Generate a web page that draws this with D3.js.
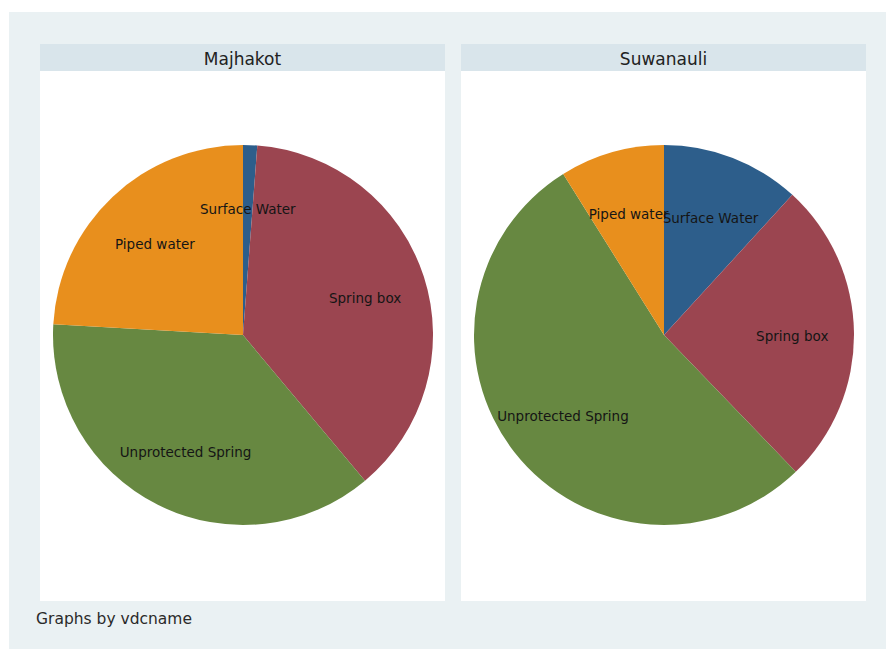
<!DOCTYPE html>
<html><head><meta charset="utf-8">
<script src="https://cdn.jsdelivr.net/npm/d3@7"></script>
<style>html,body{margin:0;padding:0;background:#fff;}svg{display:block;}</style>
</head><body>
<svg id="chart" width="886" height="649"></svg>
<script>
const categories = ["Surface Water", "Spring box", "Unprotected Spring", "Piped water"];
const panels = ["Majhakot", "Suwanauli"];
const majhakotValues = [1.2, 37.7, 37.0, 24.1];
const suwanauliValues = [11.8, 26.0, 53.3, 8.9];
const colors = ["#2d5e8b", "#9b4550", "#678841", "#e88f1d"];
const noteText = "Graphs by vdcname";

(function () {
const svg = d3.select("#chart");
const W = 886, H = 649;
svg.append("rect").attr("x", 9).attr("y", 12).attr("width", W - 9).attr("height", H - 12).attr("fill", "#eaf1f3");

const panelData = [
  {name: panels[0], values: majhakotValues},
  {name: panels[1], values: suwanauliValues}
];
const px = d3.scaleBand().domain(panels).range([40, 866]).paddingInner(16 / 421);
const panelTop = 44, headH = 27, panelBottom = 601;
const color = d3.scaleOrdinal().domain(categories).range(colors);
const pie = d3.pie().sort(null).value(d => d.v);

panelData.forEach(p => {
  const x0 = px(p.name), w = px.bandwidth();
  const g = svg.append("g");
  g.append("rect").attr("x", x0).attr("y", panelTop).attr("width", w).attr("height", panelBottom - panelTop).attr("fill", "#ffffff");
  g.append("rect").attr("x", x0).attr("y", panelTop).attr("width", w).attr("height", headH).attr("fill", "#d9e5eb");
  g.append("text").attr("x", x0 + w / 2).attr("y", panelTop + headH / 2 + 1)
    .attr("text-anchor", "middle").attr("dominant-baseline", "central")
    .attr("font-family", "DejaVu Sans, sans-serif").attr("font-size", 17).attr("fill", "#222").text(p.name);
  const cx = x0 + w / 2 + 0.5, cy = 335, r = 190;
  const arc = d3.arc().innerRadius(0).outerRadius(r);
  const lab = d3.arc().innerRadius(r * 0.675).outerRadius(r * 0.675);
  const arcs = pie(categories.map((c, i) => ({c, v: p.values[i]})));
  const pg = g.append("g").attr("transform", `translate(${cx},${cy})`);
  pg.selectAll("path").data(arcs).join("path").attr("d", arc).attr("fill", d => color(d.data.c));
  pg.selectAll("text").data(arcs).join("text")
    .attr("transform", d => { const c = lab.centroid(d); return `translate(${c[0]},${c[1] + 2.5})`; })
    .attr("text-anchor", "middle").attr("dominant-baseline", "central")
    .attr("font-family", "DejaVu Sans, sans-serif").attr("font-size", 13.5).attr("fill", "#151515")
    .text(d => d.data.c);
});

svg.append("text").attr("x", 36).attr("y", 619).attr("dominant-baseline", "central")
  .attr("font-family", "DejaVu Sans, sans-serif").attr("font-size", 15.5).attr("fill", "#2a2a2a").text(noteText);
})();
</script>
</body></html>
